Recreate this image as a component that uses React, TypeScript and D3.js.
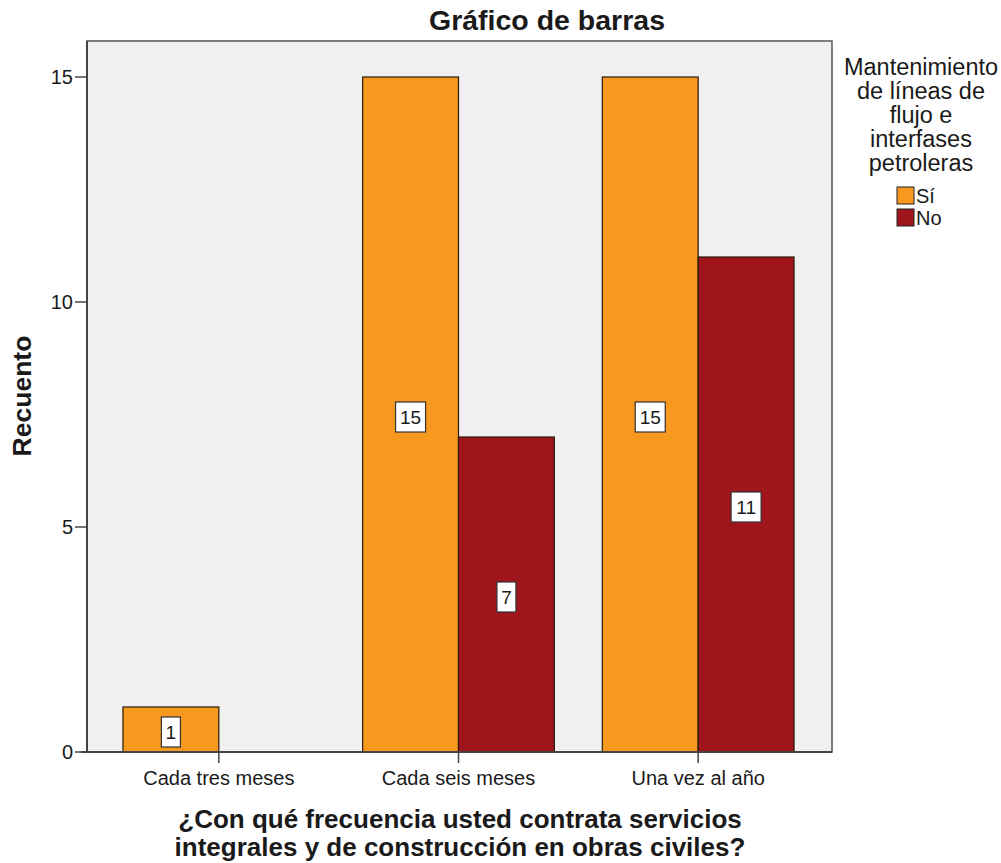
import React from "react";
import * as d3 from "d3";

const categories = ["Cada tres meses", "Cada seis meses", "Una vez al año"];
const seriesNames = ["Sí", "No"];
const siValues = [1, 15, 15];
const noValues = [0, 7, 11];
const yTicks = [0, 5, 10, 15];
const colors = ["#F7991F", "#A0151B"];
const legendTitle = ["Mantenimiento", "de líneas de", "flujo e", "interfases", "petroleras"];
const xTitle = ["¿Con qué frecuencia usted contrata servicios", "integrales y de construcción en obras civiles?"];

const W = 1001, H = 863;
const plot = { left: 87, right: 832, top: 41, bottom: 752 };
const font = "Liberation Sans, Arial, sans-serif";

export default function App() {
  const y = d3.scaleLinear().domain([0, 15]).range([plot.bottom, 77]);
  const x = d3.scaleBand().domain(categories).range([99, 818]).paddingInner(0.2).paddingOuter(0.1);
  const sub = d3.scaleBand().domain(seriesNames).range([0, x.bandwidth()]);
  const series = [siValues, noValues];

  return (
    <svg width={W} height={H} style={{ display: "block", position: "absolute", left: 0, top: 0 }} fontFamily={font}>
      <rect x={0} y={0} width={W} height={H} fill="#fff" />
      <text x={547} y={30} textAnchor="middle" fontSize={28.5} fontWeight="bold" fill="#1a1a1a">Gráfico de barras</text>
      <rect x={plot.left} y={plot.top} width={plot.right - plot.left} height={plot.bottom - plot.top} fill="#F0F0F0" stroke="#555" strokeWidth={1.5} />
      {series.map((vals, si) =>
        categories.map((c, ci) => {
          const v = vals[ci];
          if (!v) return null;
          const bx = (x(c) as number) + (sub(seriesNames[si]) as number);
          const bw = sub.bandwidth();
          const top = y(v);
          return (
            <rect key={`${si}-${ci}`} x={bx} y={top} width={bw} height={plot.bottom - top} fill={colors[si]} stroke="#2a1a10" strokeWidth={1.2} />
          );
        })
      )}
      {series.map((vals, si) =>
        categories.map((c, ci) => {
          const v = vals[ci];
          if (!v) return null;
          const bx = (x(c) as number) + (sub(seriesNames[si]) as number);
          const bw = sub.bandwidth();
          const cy = (y(v) + plot.bottom) / 2 + 2.5;
          const label = String(v);
          const lw = label.length === 1 ? 19 : 30;
          return (
            <g key={`l${si}-${ci}`}>
              <rect x={bx + bw / 2 - lw / 2} y={cy - 15} width={lw} height={30} fill="#fff" stroke="#333" strokeWidth={1.2} />
              <text x={bx + bw / 2} y={cy + 7} textAnchor="middle" fontSize={19} fill="#1a1a1a">{label}</text>
            </g>
          );
        })
      )}
      <line x1={plot.left} x2={plot.left} y1={plot.top} y2={plot.bottom} stroke="#444" strokeWidth={2} />
      <line x1={plot.left - 6} x2={plot.right} y1={plot.bottom} y2={plot.bottom} stroke="#444" strokeWidth={2} />
      {yTicks.map((t) => (
        <g key={t}>
          <line x1={plot.left - 12} x2={plot.left} y1={y(t)} y2={y(t)} stroke="#444" strokeWidth={1.5} />
          <text x={plot.left - 14} y={y(t) + 7} textAnchor="end" fontSize={20} fill="#1a1a1a">{t}</text>
        </g>
      ))}
      {categories.map((c) => {
        const cx = (x(c) as number) + x.bandwidth() / 2;
        return (
          <g key={c}>
            <line x1={cx} x2={cx} y1={plot.bottom} y2={plot.bottom + 11} stroke="#444" strokeWidth={1.5} />
            <text x={cx} y={plot.bottom + 33} textAnchor="middle" fontSize={20} fill="#1a1a1a">{c}</text>
          </g>
        );
      })}
      <text transform={`translate(31, 396) rotate(-90)`} textAnchor="middle" fontSize={26.5} fontWeight="bold" fill="#1a1a1a">Recuento</text>
      {xTitle.map((t, i) => (
        <text key={i} x={460} y={828 + i * 28} textAnchor="middle" fontSize={26} fontWeight="bold" fill="#1a1a1a">{t}</text>
      ))}
      {legendTitle.map((t, i) => (
        <text key={i} x={921} y={75 + i * 24} textAnchor="middle" fontSize={23.5} fill="#1a1a1a">{t}</text>
      ))}
      {seriesNames.map((s, i) => (
        <g key={s}>
          <rect x={897} y={187 + i * 22} width={17} height={17} fill={colors[i]} stroke="#222" strokeWidth={1} />
          <text x={916} y={203 + i * 22} fontSize={20} fill="#1a1a1a">{s}</text>
        </g>
      ))}
    </svg>
  );
}
